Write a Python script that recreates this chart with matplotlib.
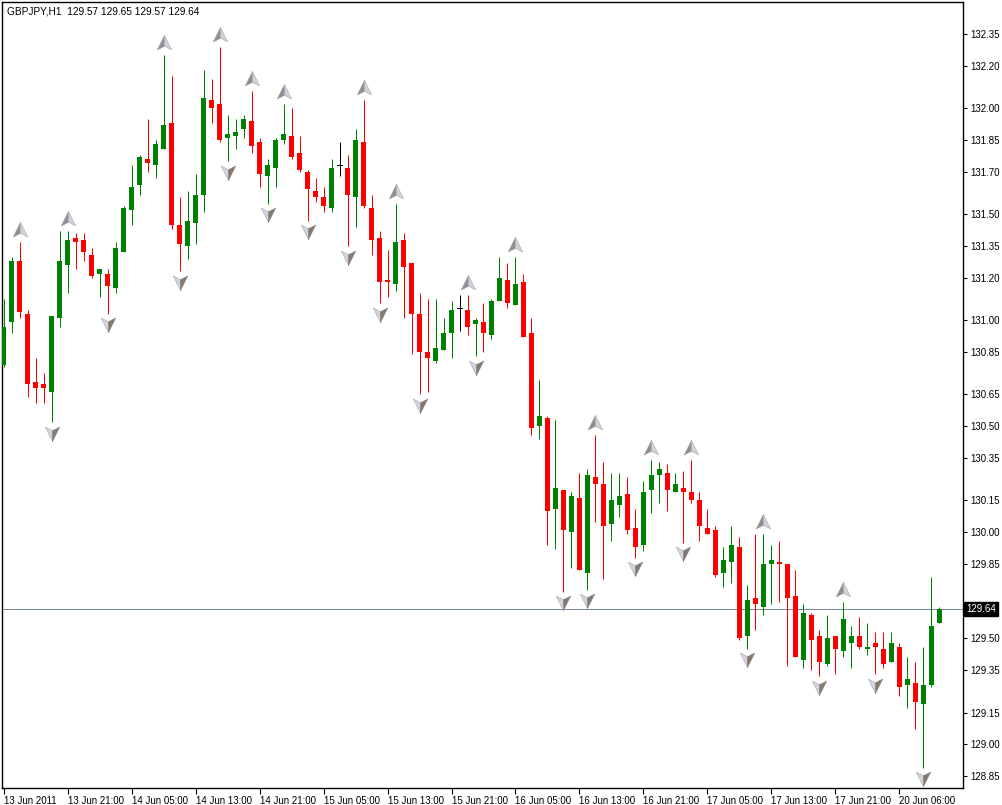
import matplotlib
matplotlib.use("Agg")
import matplotlib.pyplot as plt
import numpy as np
from matplotlib.path import Path
from matplotlib.transforms import offset_copy

# GBPJPY H1 candles
opens = [130.79, 130.99, 131.28, 131.03, 130.71, 130.70, 130.66, 131.01, 131.26, 131.39,
         131.38, 131.31, 131.22, 131.22, 131.15, 131.32, 131.52, 131.64, 131.76, 131.73,
         131.81, 131.93, 131.45, 131.35, 131.46, 131.59, 132.04, 132.02, 131.86, 131.87,
         131.90, 131.94, 131.84, 131.68, 131.72, 131.85, 131.87, 131.79, 131.70, 131.61,
         131.58, 131.53, 131.73, 131.72, 131.58, 131.84, 131.53, 131.39, 131.19, 131.17,
         131.38, 131.27, 131.03, 130.85, 130.81, 130.86, 130.94, 131.06, 131.05, 130.98,
         130.99, 130.93, 131.09, 131.19, 131.07, 131.18, 130.94, 130.50, 130.54, 130.11,
         130.20, 130.00, 130.16, 129.81, 130.26, 130.23, 130.04, 130.13, 130.18, 130.02,
         129.94, 130.20, 130.27, 130.28, 130.19, 130.21, 130.19, 130.15, 130.02, 130.01,
         129.81, 129.86, 129.93, 129.51, 129.69, 129.65, 129.85, 129.86, 129.85, 129.70,
         129.40, 129.61, 129.51, 129.38, 129.51, 129.44, 129.48, 129.51, 129.45, 129.48,
         129.45, 129.39, 129.46, 129.28, 129.29, 129.19, 129.28, 129.57]
highs = [131.10, 131.30, 131.37, 131.05, 130.82, 130.75, 131.02, 131.42, 131.42, 131.41,
         131.41, 131.34, 131.24, 131.24, 131.37, 131.54, 131.73, 131.78, 131.95, 131.85,
         132.25, 132.15, 131.58, 131.61, 131.69, 132.18, 132.14, 132.29, 131.97, 131.95,
         131.97, 132.08, 131.86, 131.76, 131.86, 132.02, 132.00, 131.87, 131.71, 131.67,
         131.63, 131.76, 131.84, 131.78, 131.90, 132.04, 131.59, 131.42, 131.33, 131.55,
         131.41, 131.27, 131.13, 131.10, 131.10, 131.01, 131.09, 131.12, 131.12, 131.01,
         131.08, 131.10, 131.30, 131.27, 131.30, 131.22, 131.01, 130.72, 130.55, 130.53,
         130.20, 130.19, 130.28, 130.30, 130.46, 130.33, 130.28, 130.28, 130.26, 130.11,
         130.24, 130.34, 130.33, 130.32, 130.28, 130.29, 130.34, 130.19, 130.11, 130.03,
         129.93, 130.03, 129.98, 129.75, 129.99, 129.99, 129.94, 129.96, 129.85, 129.82,
         129.66, 129.62, 129.54, 129.61, 129.51, 129.67, 129.56, 129.60, 129.57, 129.53,
         129.53, 129.53, 129.48, 129.41, 129.39, 129.46, 129.79, 129.65]
lows = [130.78, 130.94, 131.01, 130.64, 130.61, 130.61, 130.52, 130.97, 131.13, 131.24,
        131.28, 131.20, 131.11, 131.03, 131.13, 131.32, 131.45, 131.59, 131.70, 131.67,
        131.81, 131.43, 131.23, 131.29, 131.36, 131.51, 131.93, 131.84, 131.75, 131.81,
        131.86, 131.79, 131.63, 131.55, 131.63, 131.83, 131.76, 131.70, 131.47, 131.56,
        131.51, 131.51, 131.68, 131.35, 131.44, 131.53, 131.31, 131.08, 131.11, 131.14,
        131.01, 130.84, 130.65, 130.66, 130.80, 130.86, 130.82, 130.95, 130.93, 130.83,
        130.85, 130.91, 131.09, 131.06, 131.07, 130.92, 130.46, 130.44, 129.94, 129.92,
        129.72, 129.83, 129.82, 129.73, 130.05, 129.78, 129.96, 130.07, 129.99, 129.88,
        129.91, 130.09, 130.14, 130.10, 130.19, 129.95, 130.14, 129.96, 129.99, 129.79,
        129.74, 129.76, 129.49, 129.45, 129.54, 129.61, 129.66, 129.67, 129.37, 129.41,
        129.36, 129.35, 129.32, 129.37, 129.33, 129.41, 129.36, 129.45, 129.42, 129.33,
        129.36, 129.39, 129.23, 129.17, 129.07, 128.89, 129.27, 129.57]
closes = [130.97, 131.28, 131.04, 130.70, 130.68, 130.68, 131.02, 131.28, 131.38, 131.37,
          131.32, 131.21, 131.24, 131.16, 131.34, 131.53, 131.63, 131.77, 131.74, 131.83,
          131.92, 131.45, 131.36, 131.47, 131.59, 132.05, 132.00, 131.85, 131.88, 131.89,
          131.95, 131.82, 131.69, 131.73, 131.85, 131.88, 131.77, 131.71, 131.62, 131.58,
          131.54, 131.72, 131.73, 131.59, 131.85, 131.54, 131.38, 131.18, 131.18, 131.37,
          131.25, 131.03, 130.85, 130.82, 130.87, 130.94, 131.05, 131.06, 130.97, 131.00,
          130.94, 131.09, 131.20, 131.08, 131.17, 130.92, 130.49, 130.55, 130.10, 130.21,
          130.01, 130.17, 129.82, 130.27, 130.23, 130.03, 130.15, 130.17, 130.01, 129.93,
          130.19, 130.27, 130.30, 130.20, 130.23, 130.19, 130.15, 130.03, 129.99, 129.80,
          129.87, 129.94, 129.50, 129.68, 129.66, 129.85, 129.87, 129.85, 129.69, 129.41,
          129.62, 129.49, 129.39, 129.50, 129.45, 129.59, 129.51, 129.46, 129.46, 129.46,
          129.38, 129.48, 129.27, 129.31, 129.20, 129.28, 129.56, 129.64]

# bars carrying a fractal arrow
up_fractals = [2, 8, 20, 27, 31, 35, 45, 49, 58, 64, 74, 81, 86, 95, 105]
down_fractals = [6, 13, 22, 28, 33, 38, 43, 47, 52, 59, 70, 73, 79, 85, 93, 102, 109, 115]

time_labels = ["13 Jun 2011", "13 Jun 21:00", "14 Jun 05:00", "14 Jun 13:00", "14 Jun 21:00",
               "15 Jun 05:00", "15 Jun 13:00", "15 Jun 21:00", "16 Jun 05:00", "16 Jun 13:00",
               "16 Jun 21:00", "17 Jun 05:00", "17 Jun 13:00", "17 Jun 21:00", "20 Jun 06:00"]
price_ticks = [132.35, 132.20, 132.00, 131.85, 131.70, 131.50, 131.35, 131.20, 131.00, 130.85,
               130.65, 130.50, 130.35, 130.15, 130.00, 129.85, 129.50, 129.35, 129.15,
               129.00, 128.85]
last_price = 129.64

plt.rcParams['font.family'] = ['Liberation Sans', 'DejaVu Sans']
FS = 7.0

W, H = 1002, 805
fig = plt.figure(figsize=(W / 100, H / 100), dpi=100)
ax = fig.add_axes([2 / W, 17 / H, 961 / W, 786 / H])

o = np.array(opens)
h = np.array(highs)
l = np.array(lows)
c = np.array(closes)
x = np.arange(len(o))
colors = np.where(c > o, '#008000', np.where(c < o, '#ff0000', '#000000'))

px = 0.72  # one pixel in points
ax.vlines(x, l, h, colors=colors, linewidth=px, zorder=2)
body_h = np.abs(c - o)
bottom = np.minimum(o, c)
mask = body_h > 0
ax.bar(x[mask], body_h[mask], bottom=bottom[mask], width=0.625,
       color=colors[mask], linewidth=0, zorder=3)
# doji: small horizontal dash
for i in x[~mask]:
    ax.plot([i - 0.3, i + 0.3], [o[i], o[i]], color='black', lw=px, zorder=3)

# fractal arrows (two shaded halves each)
up_left = Path([(0, 1), (0, -0.35), (-0.9, -0.8), (0, 1)])
up_right = Path([(0, 1), (0.9, -0.8), (0, -0.35), (0, 1)])
dn_left = Path([(0, -1), (-0.9, 0.8), (0, 0.35), (0, -1)])
dn_right = Path([(0, -1), (0, 0.35), (0.9, 0.8), (0, -1)])

up_tr = offset_copy(ax.transData, fig=fig, x=0, y=8.6, units='points')
dn_tr = offset_copy(ax.transData, fig=fig, x=0, y=-7.6, units='points')
ux = np.array(up_fractals)
dx = np.array(down_fractals)
ms = 11.5
ax.plot(ux, h[ux], ls='none', marker=up_left, ms=ms, mfc='#8e8e8e', mec='#9a9a9a',
        mew=0.4, transform=up_tr, zorder=4, clip_on=False)
ax.plot(ux, h[ux], ls='none', marker=up_right, ms=ms, mfc='#cfd2da', mec='#a8a8b0',
        mew=0.4, transform=up_tr, zorder=4, clip_on=False)
ax.plot(dx, l[dx], ls='none', marker=dn_left, ms=ms, mfc='#d2d4dc', mec='#a8a8b0',
        mew=0.4, transform=dn_tr, zorder=4, clip_on=False)
ax.plot(dx, l[dx], ls='none', marker=dn_right, ms=ms, mfc='#85796f', mec='#8a8078',
        mew=0.4, transform=dn_tr, zorder=4, clip_on=False)

# current price line
ax.axhline(last_price, color='#778899', lw=px, zorder=1)

ax.set_xlim(-0.19, 119.94)
ax.set_ylim(128.794, 132.501)

ax.yaxis.tick_right()
ax.set_yticks(price_ticks)
ax.set_yticklabels([f"{p:.2f}" for p in price_ticks])
ax.set_xticks(x[::8][:len(time_labels)])
ax.set_xticklabels(time_labels)
ax.tick_params(axis='y', length=3, width=0.8, pad=2, labelsize=FS, colors='black')
ax.tick_params(axis='x', length=4, width=0.8, pad=1.5, labelsize=FS, colors='black')
for lab in ax.get_xticklabels():
    lab.set_horizontalalignment('left')
for sp in ax.spines.values():
    sp.set_linewidth(1.0)

ax.text(1.003, last_price, f"{last_price:.2f}", transform=ax.get_yaxis_transform(),
        ha='left', va='center', color='white', fontsize=FS,
        bbox=dict(boxstyle='square,pad=0.2', fc='black', ec='black'), zorder=10, clip_on=False)

ax.text(0.005, 0.9875, "GBPJPY,H1  129.57 129.65 129.57 129.64", transform=ax.transAxes,
        ha='left', va='center', fontsize=FS + 0.3, color='black')

fig.savefig("out.png", dpi=100, facecolor='white')
